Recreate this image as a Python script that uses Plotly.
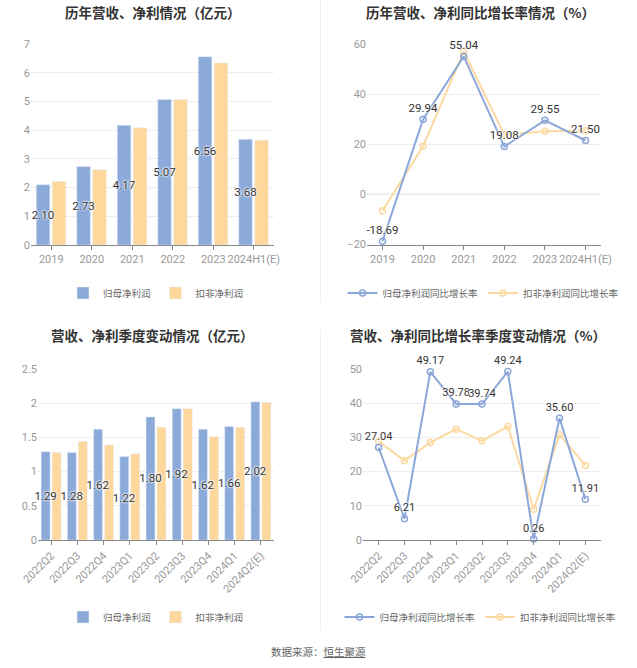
import plotly.graph_objects as go

# ---------------- data ----------------
years = ["2019", "2020", "2021", "2022", "2023", "2024H1(E)"]
annual_net = [2.10, 2.73, 4.17, 5.07, 6.56, 3.68]
annual_deduct = [2.21, 2.62, 4.08, 5.07, 6.34, 3.65]

annual_net_yoy = [-18.69, 29.94, 55.04, 19.08, 29.55, 21.50]
annual_deduct_yoy = [-6.5, 19.2, 57.0, 23.8, 25.2, 25.4]

quarters = ["2022Q2", "2022Q3", "2022Q4", "2023Q1", "2023Q2", "2023Q3", "2023Q4", "2024Q1", "2024Q2(E)"]
q_net = [1.29, 1.28, 1.62, 1.22, 1.80, 1.92, 1.62, 1.66, 2.02]
q_deduct = [1.28, 1.44, 1.39, 1.26, 1.65, 1.92, 1.51, 1.65, 2.01]

q_net_yoy = [27.04, 6.21, 49.17, 39.78, 39.74, 49.24, 0.26, 35.60, 11.91]
q_deduct_yoy = [28.8, 23.2, 28.5, 32.4, 29.0, 33.2, 9.0, 30.8, 21.8]

titles = ["历年营收、净利情况（亿元）", "历年营收、净利同比增长率情况（%）",
          "营收、净利季度变动情况（亿元）", "营收、净利同比增长率季度变动情况（%）"]
bar_names = ["归母净利润", "扣非净利润"]
line_names = ["归母净利润同比增长率", "扣非净利润同比增长率"]
source_text = "数据来源：<u>恒生聚源</u>"

# ---------------- style ----------------
W, H = 637, 668
FONT = "Noto Sans CJK SC"
NUMFONT = "Liberation Sans Narrow, Roboto, Noto Sans CJK SC"
BLUE = "#8caad9"
ORANGE = "#fdd79b"
LBLUE = "#8ba6d8"
LORANGE = "#fbd9a0"
SHADOW = "0px 0px 2px white, 0px 0px 2px white, 0px 0px 3px white"


def px_x(a, b):
    return [a / W, b / W]


def px_y(top, bottom):
    return [1 - bottom / H, 1 - top / H]


fig = go.Figure()

label_font = dict(color="#333", size=11.5, family=NUMFONT, shadow=SHADOW)
label_font4 = dict(color="#333", size=11, family=NUMFONT, shadow=SHADOW)

# Chart 1 : annual bars (orange first so blue labels sit on top)
fig.add_trace(go.Bar(x=years, y=annual_deduct, name=bar_names[1], marker_color=ORANGE,
                     offset=0.025, width=0.335, legendrank=2,
                     xaxis="x", yaxis="y", legend="legend", hoverinfo="skip"))
fig.add_trace(go.Bar(x=years, y=annual_net, name=bar_names[0], marker_color=BLUE,
                     offset=-0.37, width=0.335, legendrank=1, cliponaxis=False,
                     text=[f"{v:.2f}" for v in annual_net], textposition="inside", textangle=0,
                     insidetextanchor="middle", constraintext="none", textfont=label_font,
                     xaxis="x", yaxis="y", legend="legend", hoverinfo="skip"))

# Chart 2 : annual yoy lines
fig.add_trace(go.Scatter(x=years, y=annual_deduct_yoy, name=line_names[1], mode="lines+markers",
                         line=dict(color=LORANGE, width=2),
                         marker=dict(symbol="circle-open", size=6, color=LORANGE, line=dict(width=1.5)),
                         xaxis="x2", yaxis="y2", legend="legend2", hoverinfo="skip", legendrank=2))
fig.add_trace(go.Scatter(x=years, y=annual_net_yoy, name=line_names[0], mode="lines+markers+text",
                         line=dict(color=LBLUE, width=2),
                         marker=dict(symbol="circle-open", size=6, color=LBLUE, line=dict(width=1.5)),
                         text=[f"{v:.2f}" for v in annual_net_yoy], textposition="top center",
                         textfont=label_font, cliponaxis=False,
                         xaxis="x2", yaxis="y2", legend="legend2", hoverinfo="skip", legendrank=1))

# Chart 3 : quarterly bars
fig.add_trace(go.Bar(x=quarters, y=q_deduct, name=bar_names[1], marker_color=ORANGE,
                     offset=0.04, width=0.34, legendrank=2,
                     xaxis="x3", yaxis="y3", legend="legend3", hoverinfo="skip"))
fig.add_trace(go.Bar(x=quarters, y=q_net, name=bar_names[0], marker_color=BLUE,
                     offset=-0.38, width=0.34, legendrank=1, cliponaxis=False,
                     text=[f"{v:.2f}" for v in q_net], textposition="inside", textangle=0,
                     insidetextanchor="middle", constraintext="none", textfont=label_font,
                     xaxis="x3", yaxis="y3", legend="legend3", hoverinfo="skip"))

# Chart 4 : quarterly yoy lines
fig.add_trace(go.Scatter(x=quarters, y=q_deduct_yoy, name=line_names[1], mode="lines+markers",
                         line=dict(color=LORANGE, width=2),
                         marker=dict(symbol="circle-open", size=6, color=LORANGE, line=dict(width=1.5)),
                         xaxis="x4", yaxis="y4", legend="legend4", hoverinfo="skip", legendrank=2))
fig.add_trace(go.Scatter(x=quarters, y=q_net_yoy, name=line_names[0], mode="lines+markers+text",
                         line=dict(color=LBLUE, width=2),
                         marker=dict(symbol="circle-open", size=6, color=LBLUE, line=dict(width=1.5)),
                         text=[f"{v:.2f}" for v in q_net_yoy], textposition="top center",
                         textfont=label_font4, cliponaxis=False,
                         xaxis="x4", yaxis="y4", legend="legend4", hoverinfo="skip", legendrank=1))

tickfont = dict(color="#999", size=11, family=NUMFONT)
xcommon = dict(type="category", showgrid=False, showline=True, linecolor="#888", linewidth=1,
               ticks="outside", ticklen=4, tickcolor="#888", automargin=False,
               tickfont=tickfont, zeroline=False, fixedrange=True)
ycommon = dict(showgrid=True, gridcolor="#eeeeee", gridwidth=1, showline=False, automargin=False,
               tickfont=tickfont, zeroline=False, ticks="", fixedrange=True)

fig.update_layout(
    width=W, height=H,
    margin=dict(l=0, r=0, t=0, b=0, autoexpand=False),
    paper_bgcolor="white", plot_bgcolor="white",
    font=dict(family=FONT, color="#333"),
    barmode="overlay",
    showlegend=True,
    xaxis=dict(domain=px_x(31, 274), anchor="y", tickangle=0, **xcommon),
    yaxis=dict(domain=px_y(44, 245), anchor="x", range=[0, 7], dtick=1, **ycommon),
    xaxis2=dict(domain=px_x(367, 601), anchor="y2", tickangle=0, **xcommon),
    yaxis2=dict(domain=px_y(44, 244.5), anchor="x2", range=[-20, 60], dtick=20, **ycommon),
    xaxis3=dict(domain=px_x(38, 274), anchor="y3", tickangle=-45, **xcommon),
    yaxis3=dict(domain=px_y(369, 540), anchor="x3", range=[0, 2.5], dtick=0.5, **ycommon),
    xaxis4=dict(domain=px_x(363, 601), anchor="y4", tickangle=-45, **xcommon),
    yaxis4=dict(domain=px_y(369, 540), anchor="x4", range=[0, 50], dtick=10, **ycommon),
)

legend_common = dict(orientation="h", xanchor="center", yanchor="middle",
                     font=dict(color="#666", size=9.5, family=FONT), bgcolor="rgba(0,0,0,0)",
                     itemwidth=30, traceorder="normal")
fig.update_layout(
    legend=dict(x=156 / W, y=1 - 293 / H, **legend_common),
    legend2=dict(x=483 / W, y=1 - 293 / H, **legend_common),
    legend3=dict(x=156 / W, y=1 - 617 / H, **legend_common),
    legend4=dict(x=480 / W, y=1 - 617 / H, **legend_common),
)

# x-axis zero line for chart 2 (axis sits at 0)
fig.add_shape(type="line", xref="x2 domain", yref="y2", x0=0, x1=1, y0=0, y1=0,
              line=dict(color="#888", width=1), layer="below")

# titles
title_pos = [(153, 12), (480, 12), (152, 335), (478, 335)]
for t, (cx, cy) in zip(titles, title_pos):
    fig.add_annotation(text=f"<b>{t}</b>", x=cx / W, y=1 - cy / H, xref="paper", yref="paper",
                       showarrow=False, xanchor="center", yanchor="middle",
                       font=dict(size=13.5, color="#333", family=FONT))

fig.add_annotation(text=source_text, x=318 / W, y=1 - 651 / H, xref="paper", yref="paper",
                   showarrow=False, xanchor="center", yanchor="middle",
                   font=dict(size=10.5, color="#666", family=FONT))

# divider
fig.add_shape(type="line", xref="paper", yref="paper", x0=320.5 / W, x1=320.5 / W,
              y0=1 - 303 / H, y1=1, line=dict(color="#f0f0f0", width=1))
fig.add_shape(type="line", xref="paper", yref="paper", x0=320.5 / W, x1=320.5 / W,
              y0=1 - 630 / H, y1=1 - 330 / H, line=dict(color="#f0f0f0", width=1))

fig.write_html("out.html", config={"displayModeBar": False},
               post_script="document.body.style.margin='0px';document.body.style.overflow='hidden';")
